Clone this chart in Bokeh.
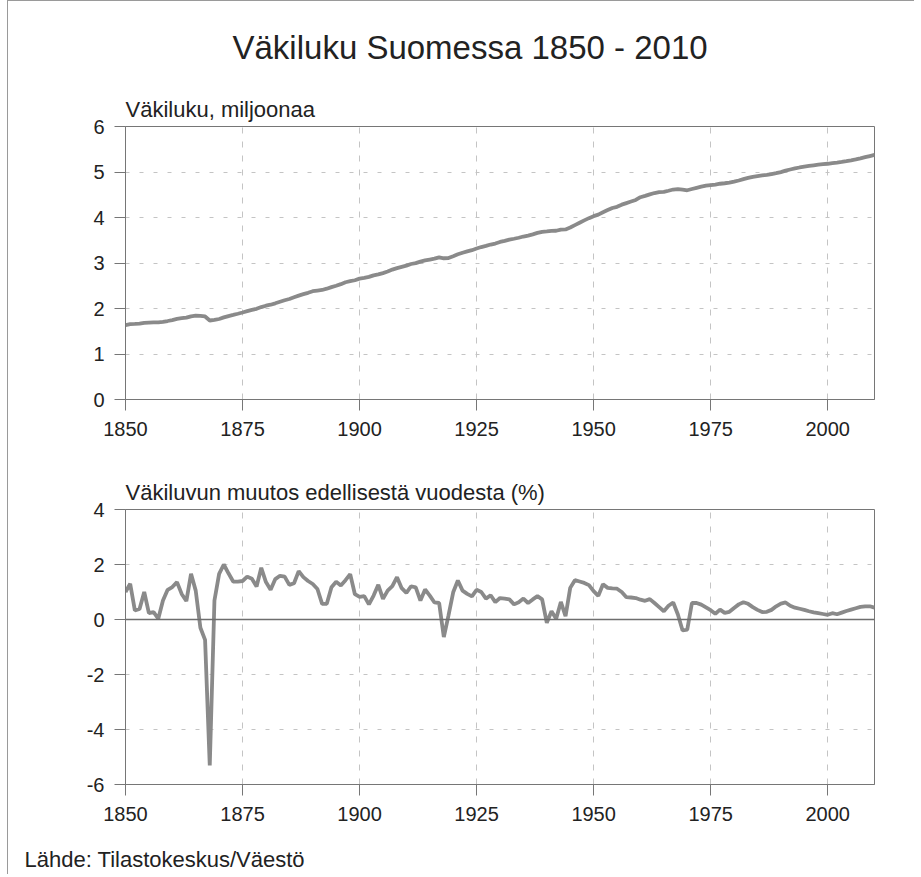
from bokeh.plotting import figure
from bokeh.models import Range1d, FixedTicker, Span, Title
from bokeh.layouts import column
from bokeh.embed import file_html
from bokeh.resources import INLINE

# ---------------- data ----------------
years = list(range(1850, 2011))

population_millions = [
    1.637, 1.658, 1.663, 1.669, 1.686, 1.690, 1.694, 1.695, 1.706, 1.725,
    1.746, 1.770, 1.786, 1.798, 1.828, 1.843, 1.838, 1.825, 1.736, 1.748,
    1.769, 1.804, 1.834, 1.859, 1.885, 1.912, 1.941, 1.970, 1.993, 2.031,
    2.061, 2.083, 2.114, 2.148, 2.181, 2.209, 2.248, 2.283, 2.315, 2.345,
    2.380, 2.394, 2.407, 2.435, 2.469, 2.499, 2.535, 2.577, 2.600, 2.621,
    2.656, 2.671, 2.694, 2.728, 2.749, 2.778, 2.812, 2.855, 2.888, 2.916,
    2.943, 2.978, 2.998, 3.031, 3.057, 3.076, 3.095, 3.124, 3.104, 3.109,
    3.148, 3.191, 3.225, 3.255, 3.282, 3.318, 3.351, 3.376, 3.406, 3.427,
    3.463, 3.488, 3.514, 3.533, 3.555, 3.582, 3.603, 3.630, 3.661, 3.686,
    3.696, 3.708, 3.709, 3.733, 3.737, 3.779, 3.833, 3.885, 3.937, 3.986,
    4.030, 4.064, 4.116, 4.163, 4.209, 4.235, 4.282, 4.317, 4.351, 4.385,
    4.446, 4.476, 4.509, 4.538, 4.558, 4.564, 4.588, 4.615, 4.626, 4.614,
    4.598, 4.626, 4.653, 4.678, 4.699, 4.712, 4.724, 4.742, 4.753, 4.765,
    4.788, 4.813, 4.842, 4.869, 4.894, 4.911, 4.926, 4.939, 4.955, 4.974,
    4.998, 5.029, 5.055, 5.078, 5.099, 5.117, 5.132, 5.147, 5.160, 5.171,
    5.181, 5.195, 5.206, 5.220, 5.237, 5.256, 5.277, 5.300, 5.326, 5.351,
    5.375,
]

growth_pct = [
    1.00, 1.30, 0.33, 0.38, 1.00, 0.23, 0.27, 0.03, 0.69, 1.08,
    1.18, 1.36, 0.93, 0.67, 1.66, 1.05, -0.30, -0.74, -5.31, 0.69,
    1.66, 2.00, 1.68, 1.38, 1.38, 1.40, 1.56, 1.48, 1.20, 1.88,
    1.36, 1.08, 1.47, 1.59, 1.56, 1.26, 1.32, 1.76, 1.54, 1.40,
    1.29, 1.11, 0.57, 0.57, 1.17, 1.37, 1.24, 1.43, 1.65, 0.92,
    0.82, 0.85, 0.55, 0.87, 1.26, 0.75, 1.05, 1.21, 1.54, 1.14,
    0.97, 1.21, 1.17, 0.69, 1.09, 0.87, 0.62, 0.60, -0.64, 0.15,
    0.99, 1.42, 1.05, 0.93, 0.84, 1.08, 1.00, 0.76, 0.88, 0.63,
    0.78, 0.76, 0.73, 0.55, 0.63, 0.76, 0.60, 0.73, 0.85, 0.73,
    -0.12, 0.30, 0.03, 0.64, 0.12, 1.15, 1.43, 1.38, 1.33, 1.25,
    1.03, 0.86, 1.28, 1.15, 1.13, 1.12, 1.00, 0.81, 0.80, 0.78,
    0.72, 0.68, 0.74, 0.60, 0.45, 0.30, 0.50, 0.62, 0.18, -0.40,
    -0.37, 0.60, 0.60, 0.54, 0.44, 0.34, 0.21, 0.36, 0.24, 0.28,
    0.42, 0.55, 0.63, 0.57, 0.45, 0.35, 0.27, 0.28, 0.35, 0.48,
    0.58, 0.62, 0.50, 0.43, 0.39, 0.35, 0.30, 0.26, 0.23, 0.20,
    0.17, 0.23, 0.19, 0.25, 0.31, 0.36, 0.41, 0.46, 0.48, 0.48,
    0.43,
]

x_ticks = [1850, 1875, 1900, 1925, 1950, 1975, 2000]
pop_ticks = [0, 1, 2, 3, 4, 5, 6]
growth_ticks = [-6, -4, -2, 0, 2, 4]

main_title = "Väkiluku Suomessa 1850 - 2010"
top_subtitle = "Väkiluku, miljoonaa"
bottom_subtitle = "Väkiluvun muutos edellisestä vuodesta (%)"
source_text = "Lähde: Tilastokeskus/Väestö"

FONT = "Liberation Sans"
TEXT = "#222222"
LINE = "#8a8a8a"
AXIS = "#767676"
GRID = "#c4c4c4"


def style(p, yticks):
    p.xaxis.ticker = FixedTicker(ticks=x_ticks)
    p.yaxis.ticker = FixedTicker(ticks=yticks)
    p.yaxis.major_label_overrides = {t: str(t) for t in yticks}
    for ax in (p.xaxis[0], p.yaxis[0]):
        ax.major_label_text_font = FONT
        ax.major_label_text_font_size = "20px"
        ax.major_label_text_color = TEXT
        ax.axis_line_color = AXIS
        ax.major_tick_line_color = AXIS
        ax.major_tick_out = 11
        ax.major_tick_in = 0
        ax.minor_tick_line_color = None
    p.xaxis.major_label_standoff = 11
    p.yaxis.major_label_standoff = 10
    p.xgrid.ticker = FixedTicker(ticks=x_ticks[1:])
    p.xgrid.grid_line_color = GRID
    p.xgrid.grid_line_dash = "6 8"
    p.ygrid.grid_line_color = GRID
    p.ygrid.grid_line_dash = "4 10"
    p.outline_line_color = AXIS
    p.outline_line_width = 1
    p.background_fill_color = "white"
    p.border_fill_color = "white"


def make_title(text, size, align="left", offset=0, standoff=10):
    return Title(text=text, align=align, offset=offset, standoff=standoff,
                 text_font=FONT, text_font_size=size, text_color=TEXT,
                 text_font_style="normal")


W = 906
top = figure(width=W, height=454, output_backend="svg", toolbar_location=None,
             x_range=Range1d(1850, 2010), y_range=Range1d(0, 6),
             min_border_left=117, min_border_right=40, min_border_top=125,
             min_border_bottom=56)
top.title = make_title(main_title, "33px", align="left", offset=107,
                       standoff=48)
style(top, pop_ticks)
top.ygrid.ticker = FixedTicker(ticks=[1, 2, 3, 4, 5])
top.line(years, population_millions, line_color=LINE, line_width=3.8)
top.add_layout(make_title(top_subtitle, "22px", standoff=10), "above")

bot = figure(width=W, height=385, output_backend="svg", toolbar_location=None,
             x_range=Range1d(1850, 2010), y_range=Range1d(-6, 4),
             min_border_left=117, min_border_right=40, min_border_top=54,
             min_border_bottom=56)
bot.title = make_title(bottom_subtitle, "22px", standoff=10)
style(bot, growth_ticks)
bot.ygrid.ticker = FixedTicker(ticks=[-4, -2, 2])
bot.add_layout(Span(location=0, dimension="width", line_color="#6e6e6e",
                    line_width=1.3))
bot.line(years, growth_pct, line_color=LINE, line_width=3.8)

# source line: a thin strip whose title (below) carries the source text
src = figure(width=W, height=34, output_backend="svg", toolbar_location=None,
             x_range=Range1d(0, 1), y_range=Range1d(0, 1),
             x_axis_location=None, y_axis_location=None,
             min_border_left=117, min_border_right=40, min_border_top=0,
             min_border_bottom=0, title_location="below")
src.title = make_title(source_text, "22px", align="left", offset=-101,
                       standoff=6)
src.grid.grid_line_color = None
src.outline_line_color = None
src.background_fill_color = "white"
src.border_fill_color = "white"

layout = column(top, bot, src, spacing=0,
                styles={"margin-left": "7px", "margin-top": "0px",
                        "border-left": "1px solid #9a9a9a",
                        "border-top": "1px solid #9a9a9a"})

open("out.html", "w").write(file_html(layout, INLINE))
